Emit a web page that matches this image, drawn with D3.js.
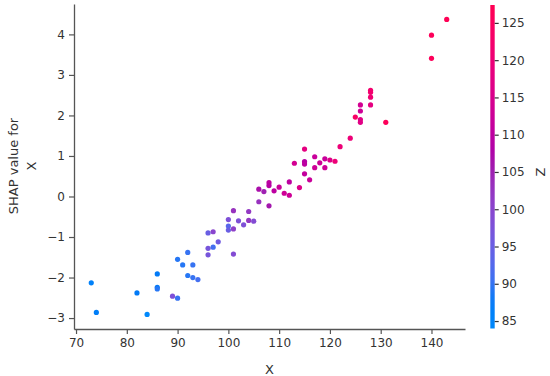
<!DOCTYPE html>
<html>
<head>
<meta charset="utf-8">
<script src="https://cdn.jsdelivr.net/npm/d3@7"></script>
<style>
    body { margin: 0; background: #fff; }
    svg text { font-family: "DejaVu Sans", sans-serif; fill: #333; }
</style>
</head>
<body>
<svg id="drawing_region"></svg>
<script>
// feature value, SHAP value and interaction feature (Z) per sample
const xValues = [73, 74, 82, 84, 86, 86, 86, 89, 90, 90, 92, 91, 93, 92, 93, 94,
    96, 97, 96, 97, 98, 96, 101, 100, 100, 100, 101, 101, 102, 103, 104, 104, 105,
    106, 106, 107, 108, 108, 108, 109, 110, 111, 112, 112, 113, 114, 116, 115, 115,
    115, 115, 117, 117, 118, 119, 119, 120, 121, 122, 124, 125, 126, 126, 126, 126,
    128, 128, 128, 128, 131, 140, 140, 143];
const shapValues = [-2.13, -2.86, -2.38, -2.91, -1.91, -2.24, -2.28, -2.46, -2.51, -1.55,
    -1.38, -1.69, -1.69, -1.95, -2.00, -2.05, -0.90, -0.87, -1.28, -1.25, -1.12, -1.44,
    -1.42, -0.57, -0.73, -0.83, -0.80, -0.35, -0.60, -0.70, -0.37, -0.59, -0.61, -0.13,
    0.18, 0.12, 0.34, 0.27, -0.23, 0.14, 0.23, 0.08, 0.36, 0.03, 0.82, 0.22, 0.41, 0.56,
    0.86, 0.80, 1.17, 0.98, 0.71, 0.83, 0.93, 0.71, 0.90, 0.87, 1.23, 1.44, 1.96, 1.90,
    1.83, 2.11, 2.26, 2.26, 2.45, 2.57, 2.62, 1.83, 3.98, 3.41, 4.37];
const zValues = [86, 87, 88, 84, 88, 88, 89, 98, 90, 89, 90, 89, 90, 89, 90, 91,
    95, 100, 97, 91, 96, 97, 99, 98, 93, 95, 101, 103, 98, 98, 102, 102, 99,
    103, 107, 105, 110, 109, 106, 110, 112, 113, 110, 113, 114, 116, 112, 111, 109,
    110, 118, 112, 113, 113, 112, 113, 116, 120, 120, 120, 124, 117, 117, 113, 114,
    118, 121, 122, 122, 126, 126, 126, 127];

const xTicks = [70, 80, 90, 100, 110, 120, 130, 140];
const yTicks = [-3, -2, -1, 0, 1, 2, 3, 4];
const zTicks = [85, 90, 95, 100, 105, 110, 115, 120, 125];
const zRange = [84, 127.4];

// shap's red_blue map: walk through LCh from blue to red with a darker middle
function redBlue(t) {
    const h = 266.93 + t * 113.39;
    const c = 70 + 20 * t;
    const l = t < 0.5 ? 54 - 28 * t : 40 + 28 * (t - 0.5);
    return d3.hcl(h, c, l).formatRgb();
}

const width = 550, height = 376;
const svg = d3.select('#drawing_region')
    .attr('width', width)
    .attr('height', height);

const xscale = d3.scaleLinear().domain([69.6, 146.6]).range([74, 465]);
const yscale = d3.scaleLinear().domain([-3.27, 4.75]).range([329, 4]);
const zscale = d3.scaleLinear().domain(zRange).range([328.5, 5]);
const zcolor = d3.scaleSequential(redBlue).domain(zRange);

const data = xValues.map((x, i) => ({x: x, shap: shapValues[i], z: zValues[i]}));

// axes
const xaxis = d3.axisBottom(xscale).tickValues(xTicks).tickSize(5).tickPadding(4).tickSizeOuter(0);
const yaxis = d3.axisLeft(yscale).tickValues(yTicks).tickSize(5).tickPadding(4).tickSizeOuter(0);

const xg = svg.append('g').attr('transform', 'translate(0, 329)').call(xaxis);
const yg = svg.append('g').attr('transform', 'translate(74, 0)').call(yaxis);

[xg, yg].forEach(g => {
    g.select('.domain').attr('stroke', '#555').attr('stroke-width', 1.3);
    g.selectAll('.tick line').attr('stroke', '#555').attr('stroke-width', 1.2);
    g.selectAll('.tick text').attr('font-size', 12).attr('fill', '#333')
        .attr('font-family', '"DejaVu Sans", sans-serif');
});

// points
svg.append('g').selectAll('circle')
    .data(data)
    .enter()
    .append('circle')
    .attr('cx', d => xscale(d.x))
    .attr('cy', d => yscale(d.shap))
    .attr('r', 2.6)
    .attr('fill', d => zcolor(d.z));

// axis labels
svg.append('text')
    .attr('x', 269.5).attr('y', 374)
    .attr('text-anchor', 'middle')
    .attr('font-size', 13)
    .text('X');

const ylab = svg.append('text')
    .attr('transform', 'translate(18, 166) rotate(-90)')
    .attr('text-anchor', 'middle')
    .attr('font-size', 13);
ylab.append('tspan').attr('x', 0).attr('y', 0).text('SHAP value for');
ylab.append('tspan').attr('x', 0).attr('y', 18).text('X');

// colour bar
const defs = svg.append('defs');
const grad = defs.append('linearGradient')
    .attr('id', 'zgrad')
    .attr('x1', 0).attr('y1', 1).attr('x2', 0).attr('y2', 0);
d3.range(0, 1.0001, 0.05).forEach(t => {
    grad.append('stop').attr('offset', t).attr('stop-color', redBlue(t));
});

svg.append('rect')
    .attr('x', 490.3).attr('y', zscale(zRange[1]))
    .attr('width', 4.4)
    .attr('height', zscale(zRange[0]) - zscale(zRange[1]))
    .attr('fill', 'url(#zgrad)');

const zaxis = d3.axisRight(zscale).tickValues(zTicks).tickSize(4).tickPadding(3).tickSizeOuter(0);
const zg = svg.append('g').attr('transform', 'translate(494.7, 0)').call(zaxis);
zg.select('.domain').remove();
zg.selectAll('.tick line').attr('stroke', '#333').attr('stroke-width', 1.2);
zg.selectAll('.tick text').attr('font-size', 12).attr('fill', '#333')
    .attr('font-family', '"DejaVu Sans", sans-serif');

svg.append('text')
    .attr('transform', 'translate(545, 172) rotate(-90)')
    .attr('text-anchor', 'middle')
    .attr('font-size', 13)
    .text('Z');
</script>
</body>
</html>
